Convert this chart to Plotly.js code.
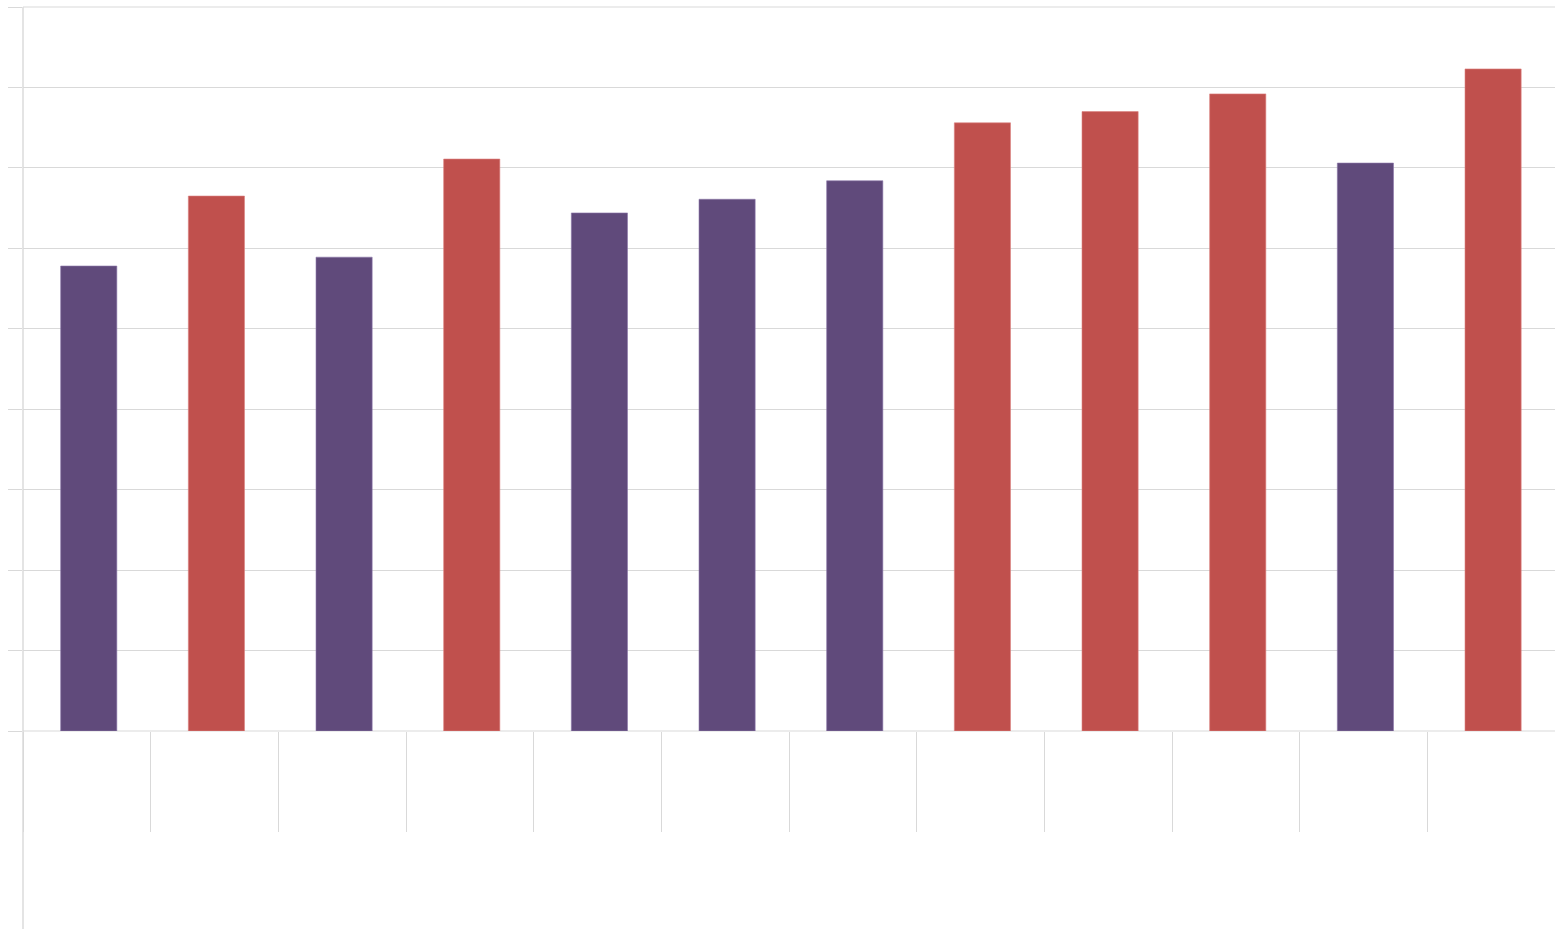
<!DOCTYPE html>
<html>
<head>
<meta charset="utf-8">
<script src="https://cdn.plot.ly/plotly-3.0.1.min.js"></script>
<style>
  html, body { margin: 0; padding: 0; background: #ffffff; }
  #chart { width: 1555px; height: 929px; }
</style>
</head>
<body>
<div id="chart"></div>
<script>
// Twelve periods; each one belongs to one of two series.
const categories = ['1', '2', '3', '4', '5', '6', '7', '8', '9', '10', '11', '12'];

const purpleCategories = ['1', '3', '5', '6', '7', '11'];
const purpleValues = [57.8, 58.9, 64.4, 66.1, 68.4, 70.6];

const redCategories = ['2', '4', '8', '9', '10', '12'];
const redValues = [66.5, 71.1, 75.6, 77.0, 79.2, 82.3];

const gridColor = '#d9d9d9';

const purpleTrace = {
  type: 'bar',
  x: purpleCategories,
  y: purpleValues,
  width: 0.44,
  offset: -0.205,
  marker: { color: '#604a7b', line: { color: 'rgba(140,120,170,0.6)', width: 1 } },
  hoverinfo: 'x+y'
};

const redTrace = {
  type: 'bar',
  x: redCategories,
  y: redValues,
  width: 0.44,
  offset: -0.205,
  marker: { color: '#c0504d', line: { color: 'rgba(220,130,128,0.6)', width: 1 } },
  hoverinfo: 'x+y'
};

const layout = {
  width: 1555,
  height: 929,
  margin: { l: 23, r: 0, t: 7, b: 198 },
  paper_bgcolor: '#ffffff',
  plot_bgcolor: '#ffffff',
  barmode: 'overlay',
  showlegend: false,
  xaxis: {
    type: 'category',
    categoryorder: 'array',
    categoryarray: categories,
    range: [-0.5, 11.5],
    showgrid: false,
    zeroline: false,
    showline: false,
    showticklabels: false,
    ticks: 'outside',
    tickson: 'boundaries',
    ticklen: 100,
    tickwidth: 1,
    tickcolor: gridColor
  },
  yaxis: {
    range: [0, 90],
    dtick: 10,
    tick0: 0,
    showgrid: true,
    gridcolor: gridColor,
    gridwidth: 1,
    zeroline: false,
    showline: false,
    showticklabels: false,
    ticks: 'outside',
    ticklen: 14,
    tickwidth: 1,
    tickcolor: gridColor
  },
  shapes: [
    // vertical axis line, running down past the plot to the page bottom
    {
      type: 'line',
      xref: 'paper', yref: 'paper',
      x0: 0, x1: 0,
      y0: -198 / 724, y1: 1,
      line: { color: '#e4e4e4', width: 2 },
      layer: 'below'
    },
    // gridlines at the two ends of the value range
    {
      type: 'line',
      xref: 'paper', yref: 'paper',
      x0: 0, x1: 1, y0: 1, y1: 1,
      line: { color: gridColor, width: 1 },
      layer: 'below'
    },
    {
      type: 'line',
      xref: 'paper', yref: 'paper',
      x0: 0, x1: 1, y0: 0, y1: 0,
      line: { color: gridColor, width: 1 },
      layer: 'below'
    }
  ]
};

Plotly.newPlot('chart', [purpleTrace, redTrace], layout, { displayModeBar: false, staticPlot: true });
</script>
</body>
</html>
